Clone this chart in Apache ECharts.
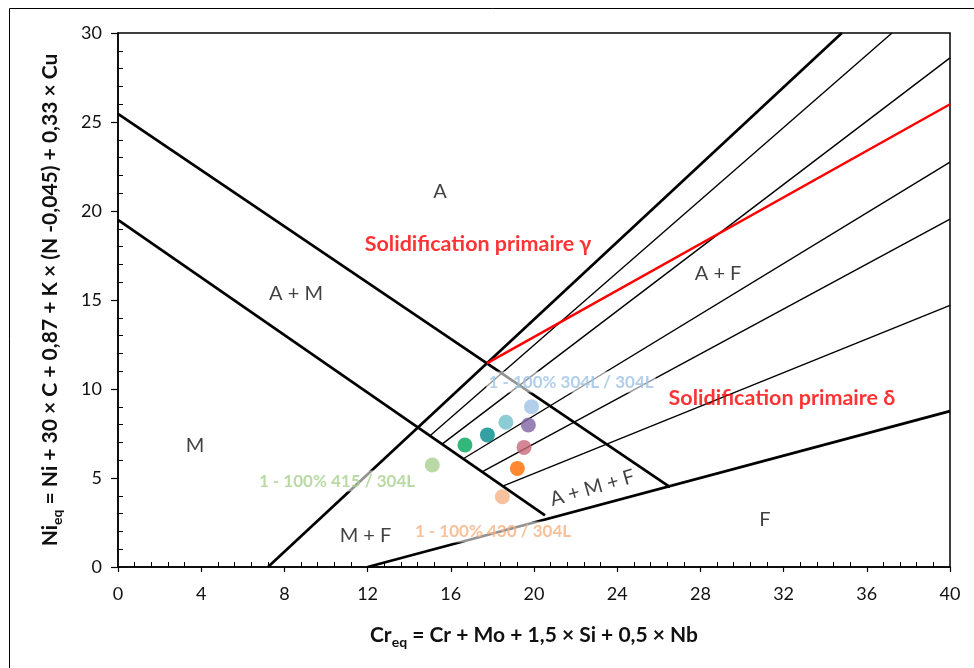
<!DOCTYPE html>
<html>
<head>
<meta charset="utf-8">
<script src="https://cdn.jsdelivr.net/npm/echarts@6/dist/echarts.min.js"></script>
<style>
html,body{margin:0;padding:0;background:#fff;}
#chart{width:974px;height:668px;}
</style>
</head>
<body>
<div id="chart"></div>
<script>
// Axis ranges / ticks
const xTicks = [0, 4, 8, 12, 16, 20, 24, 28, 32, 36, 40];
const yTicks = [0, 5, 10, 15, 20, 25, 30];

// Thick phase boundary lines [start, end] (Cr_eq, Ni_eq)
const boundaryLines = [
  [[0, 25.45], [26.54, 4.49]],
  [[0, 19.5], [20.53, 2.9]],
  [[7.21, 0], [34.8, 30]],
  [[12.0, 0], [40, 8.76]]
];
// Thin ferrite percentage lines
const ferriteLines = [
  [[15.0, 7.37], [37.21, 30]],
  [[15.58, 6.9], [40, 28.6]],
  [[16.6, 6.08], [40, 22.75]],
  [[17.5, 5.35], [40, 19.55]],
  [[18.5, 4.54], [40, 14.7]]
];
// Red solidification boundary
const solidLine = [[17.73, 11.44], [40, 26.0]];

// Measured points
const pointsCr = [19.88, 19.73, 18.65, 17.76, 16.68, 19.52, 19.2, 18.48, 15.11];
const pointsNi = [9.0, 7.98, 8.13, 7.42, 6.85, 6.72, 5.54, 3.95, 5.73];
const pointColors = ['#9DC3E6', '#8064A2', '#6FBFCB', '#00898B', '#00A65A', '#C9687A', '#FF6A00', '#F4B183', '#A9D18E'];

// Region labels
const regionNames = ['A', 'A + M', 'A + F', 'M', 'M + F', 'F', 'A + M + F'];
const regionCr = [15.48, 8.56, 28.85, 3.7, 11.9, 31.1, 22.8];
const regionNi = [21.07, 15.34, 16.5, 6.85, 1.74, 2.64, 4.44];

// Solidification labels
const solidNames = ['Solidification primaire γ', 'Solidification primaire δ'];
const solidCr = [17.31, 31.92];
const solidNi = [18.15, 9.49];

// Series labels
const seriesNames = ['1 - 100% 304L / 304L', '1 - 100% 415 / 304L', '1 - 100% 430 / 304L'];
const seriesCr = [21.78, 10.53, 18.03];
const seriesNi = [10.39, 4.83, 1.97];
const seriesColors = ['#9DC3E6', '#A9D18E', '#F4B183'];

const FONT = 'Lato';
const chart = echarts.init(document.getElementById('chart'), null, {renderer: 'canvas'});

const series = [];
boundaryLines.forEach(l => series.push({
  type: 'line', data: l, symbol: 'none', silent: true, z: 3,
  lineStyle: {color: '#000', width: 2.7}
}));
ferriteLines.forEach(l => series.push({
  type: 'line', data: l, symbol: 'none', silent: true, z: 3,
  lineStyle: {color: '#000', width: 1.4}
}));
series.push({
  type: 'line', data: solidLine, symbol: 'none', silent: true, z: 3,
  lineStyle: {color: '#FF0000', width: 2.4}
});
series.push({
  type: 'scatter', z: 5,
  data: regionNames.map((n, i) => ({
    value: [regionCr[i], regionNi[i]], name: n,
    label: n === 'A + M + F' ? {rotate: 16} : {}
  })),
  symbolSize: 0,
  label: {show: true, position: 'inside', formatter: p => p.name, fontFamily: FONT, fontSize: 20, color: '#111'}
});
series.push({
  type: 'scatter', z: 5,
  data: solidNames.map((n, i) => ({value: [solidCr[i], solidNi[i]], name: n})),
  symbolSize: 0,
  label: {show: true, position: 'inside', formatter: p => p.name, fontFamily: FONT, fontSize: 21.5, fontWeight: 'bold', color: '#FF0000'}
});
series.push({
  type: 'scatter', z: 6,
  data: seriesNames.map((n, i) => ({
    value: [seriesCr[i], seriesNi[i]], name: n,
    label: {color: seriesColors[i]}
  })),
  symbolSize: 0,
  label: {show: true, position: 'inside', formatter: p => p.name, fontFamily: FONT, fontSize: 17, fontWeight: 'bold',
    backgroundColor: 'rgba(255,255,255,0.72)', padding: [3, 2, 1, 2]}
});
series.push({
  type: 'scatter', z: 7,
  data: pointsCr.map((x, i) => ({value: [x, pointsNi[i]], itemStyle: {color: pointColors[i]}})),
  symbol: 'circle', symbolSize: 15
});

chart.setOption({
  animation: false,
  backgroundColor: '#fff',
  graphic: [{
    type: 'rect', shape: {x: 9.5, y: 8.5, width: 1000, height: 700},
    style: {fill: 'none', stroke: '#000', lineWidth: 1}, z: -1
  }],
  grid: {left: 118, top: 33, width: 832, height: 534, show: true, borderColor: '#000', borderWidth: 1.5, containLabel: false},
  xAxis: [{
    type: 'value', min: xTicks[0], max: xTicks[xTicks.length - 1], interval: 4,
    axisLine: {show: true, lineStyle: {color: '#000', width: 1.5}},
    axisTick: {show: true, length: 5, lineStyle: {color: '#000', width: 1.2}},
    axisLabel: {fontFamily: FONT, fontSize: 18, color: '#111', margin: 18},
    splitLine: {show: false},
    name: '{b|Cr}{s|eq}{b| = Cr + Mo + 1,5 × Si + 0,5 × Nb}',
    nameLocation: 'middle', nameGap: 54,
    nameTextStyle: {rich: {
      b: {fontFamily: FONT, fontSize: 21, fontWeight: 'bold', color: '#111', lineHeight: 28, verticalAlign: 'middle'},
      s: {fontFamily: FONT, fontSize: 14, fontWeight: 'bold', color: '#111', lineHeight: 14, verticalAlign: 'bottom'}
    }}
  }, {
    type: 'value', min: xTicks[0], max: xTicks[xTicks.length - 1], interval: 4, position: 'bottom',
    axisLine: {show: false}, axisLabel: {show: false}, splitLine: {show: false},
    axisTick: {show: false, inside: true},
    minorTick: {show: true, splitNumber: 5, length: 5, lineStyle: {color: '#000', width: 1}}
  }],
  yAxis: [{
    type: 'value', min: yTicks[0], max: yTicks[yTicks.length - 1], interval: 5,
    axisLine: {show: true, lineStyle: {color: '#000', width: 1.5}},
    axisTick: {show: true, length: 7, lineStyle: {color: '#000', width: 1.2}},
    axisLabel: {fontFamily: FONT, fontSize: 18, color: '#111', margin: 16},
    splitLine: {show: false},
    name: '{b|Ni}{s|eq}{b| = Ni + 30 × C + 0,87 + K × (N -0,045) + 0,33 × Cu}',
    nameLocation: 'middle', nameGap: 54, nameRotate: 90,
    nameTextStyle: {rich: {
      b: {fontFamily: FONT, fontSize: 21, fontWeight: 'bold', color: '#111', lineHeight: 28, verticalAlign: 'middle'},
      s: {fontFamily: FONT, fontSize: 14, fontWeight: 'bold', color: '#111', lineHeight: 14, verticalAlign: 'bottom'}
    }}
  }, {
    type: 'value', min: yTicks[0], max: yTicks[yTicks.length - 1], interval: 5, position: 'left',
    axisLine: {show: false}, axisLabel: {show: false}, splitLine: {show: false},
    axisTick: {show: false, inside: true},
    minorTick: {show: true, splitNumber: 5, length: 5, lineStyle: {color: '#000', width: 1}}
  }],
  series: series
});
</script>
</body>
</html>
